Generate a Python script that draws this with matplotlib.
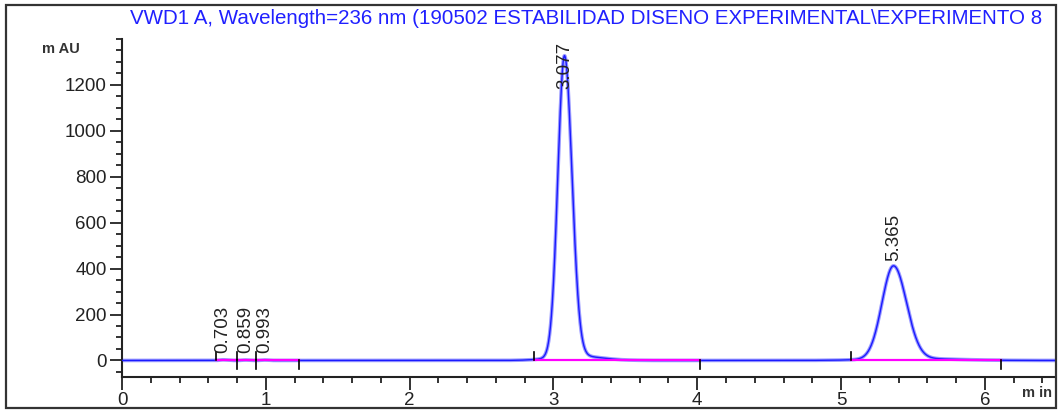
import numpy as np
import matplotlib
matplotlib.use("Agg")
import matplotlib.pyplot as plt
from matplotlib.patches import Rectangle
from matplotlib.ticker import MultipleLocator

plt.rcParams['font.family'] = ['Liberation Sans', 'DejaVu Sans']

# Peak table (retention time in min, apex height in mAU)
retention_times = [0.703, 0.859, 0.993, 3.077, 5.365]
peak_heights = [3.0, 2.0, 2.0, 1310.0, 405.0]
sigma_left = [0.02, 0.02, 0.02, 0.046, 0.080]
sigma_right = [0.025, 0.025, 0.025, 0.052, 0.090]
tail_fraction = [0.0, 0.0, 0.0, 0.015, 0.02]
peak_labels = ["0.703", "0.859", "0.993", "3.077", "5.365"]

# Integration baselines (start, end) in min
baseline_start = [0.654, 0.800, 0.930, 2.865, 5.070]
baseline_end = [0.800, 0.930, 1.233, 4.020, 6.110]

title_text = "VWD1 A, Wavelength=236 nm (190502 ESTABILIDAD DISENO EXPERIMENTAL\\EXPERIMENTO 8"
x_ticks = [0, 1, 2, 3, 4, 5, 6]
y_ticks = [0, 200, 400, 600, 800, 1000, 1200]

t = np.linspace(0, 6.5, 4000)
signal = np.zeros_like(t)
for rt, h, sl, sr, tf in zip(retention_times, peak_heights, sigma_left,
                             sigma_right, tail_fraction):
    s = np.where(t < rt, sl, sr)
    signal += h * np.exp(-0.5 * ((t - rt) / s) ** 2)
    signal += h * tf * np.exp(-0.5 * ((t - rt - 1.6 * sr) / (3.2 * sr)) ** 2)

fig = plt.figure(figsize=(10.6, 4.13), dpi=100)
ax = fig.add_axes([0.1151, 0.0872, 0.8802, 0.8184])

trace_blue = "#1a1aff"
ax.plot(t, signal, color="#9a9aff", lw=2.6, solid_capstyle="butt", zorder=2)
ax.plot(t, signal, color=trace_blue, lw=1.0, zorder=3)

for b0, b1 in zip(baseline_start, baseline_end):
    ax.plot([b0, b1], [0, 0], color="#ff00ff", lw=1.6, zorder=4)
for b0 in baseline_start:
    ax.plot([b0, b0], [0, 38], color="black", lw=1.2, zorder=5)
for b1 in baseline_end:
    ax.plot([b1, b1], [0, -36], color="black", lw=1.2, zorder=5)

for rt, h, lab in zip(retention_times, peak_heights, peak_labels):
    if h > 1000:
        ax.text(rt, 1388, lab, rotation=90, ha="center", va="top",
                fontsize=13.5, color="#222222", zorder=6)
    else:
        ax.text(rt, max(h, 0) + 30, lab, rotation=90, ha="center",
                va="bottom", fontsize=13.5, color="#222222", zorder=6)

ax.set_xlim(0, 6.488)
ax.set_ylim(-72, 1400)
ax.set_xticks(x_ticks)
ax.set_yticks(y_ticks)
ax.xaxis.set_minor_locator(MultipleLocator(0.2))
ax.yaxis.set_minor_locator(MultipleLocator(50))
ax.tick_params(axis="both", which="major", length=9, width=1.3,
               labelsize=13.5, colors="#222222", direction="out", pad=2)
ax.tick_params(axis="both", which="minor", length=4.5, width=1.3,
               direction="out", colors="#222222")
for side in ("top", "right"):
    ax.spines[side].set_visible(False)
for side in ("left", "bottom"):
    ax.spines[side].set_linewidth(1.5)
    ax.spines[side].set_color("#222222")
ax.patch.set_visible(False)

frame = Rectangle((6 / 1060, 1 - 408 / 413), 1050 / 1060, 403 / 413,
                  transform=fig.transFigure, fill=False,
                  edgecolor="#333333", lw=1.6, zorder=10)
fig.patches.append(frame)

fig.text(130 / 1060, 1 - 18 / 413, title_text, ha="left",
         va="center", fontsize=14.8, color="#2020ff")

fig.text(61 / 1060, 1 - 49 / 413, "m AU", ha="center", va="center",
         fontsize=10.5, fontweight="bold", color="#333333")
fig.text(1022 / 1060, 1 - 393 / 413, "m in", ha="left",
         va="center", fontsize=10.5, fontweight="bold", color="#333333")

fig.savefig("out.png", dpi=100)
